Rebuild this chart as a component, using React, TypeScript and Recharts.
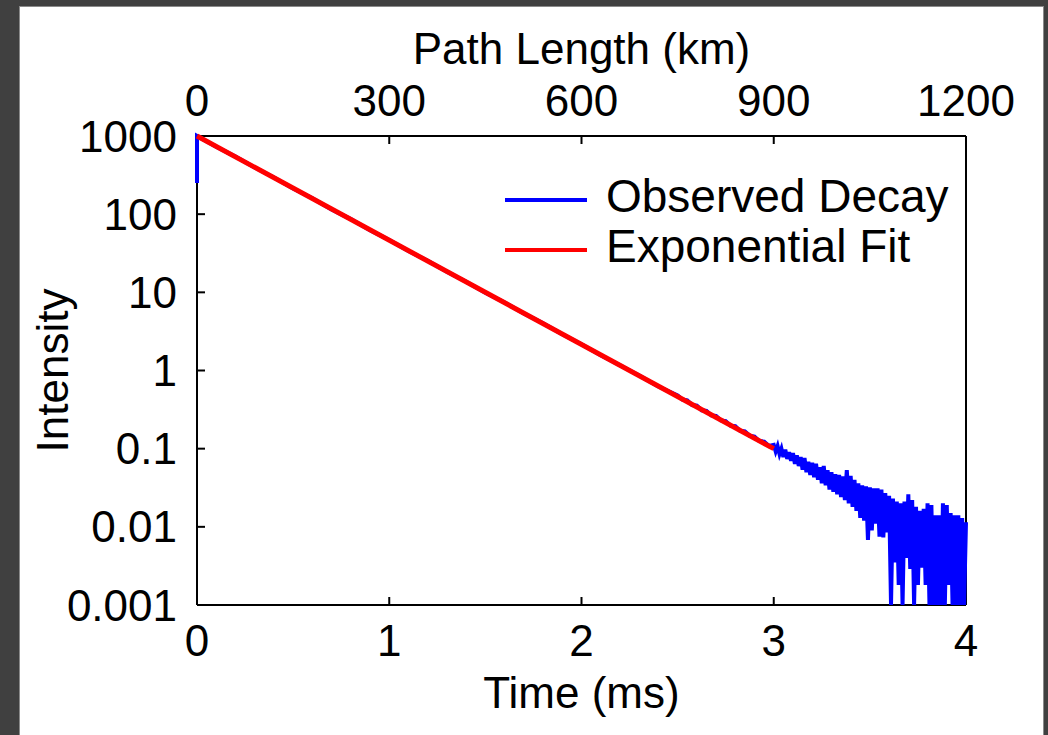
import { LineChart, Line, XAxis, YAxis, Legend } from 'recharts';

const FONT = '"Liberation Sans", Arial, sans-serif';

const timeTicks = [0, 1, 2, 3, 4];
const pathTicks = [0, 300, 600, 900, 1200];
const intensityTicks = [0.001, 0.01, 0.1, 1, 10, 100, 1000];
const legendOrder = ['Observed Decay', 'Exponential Fit'];

// observed decay (ms, intensity)
const decayTimes = [
  0, 0, 0.1, 0.2, 0.3, 0.4, 0.5, 0.6, 0.7, 0.8, 0.9, 1.0, 1.1, 1.2, 1.3, 1.4, 1.5, 1.6, 1.7, 1.8, 1.9,
  2.0, 2.1, 2.2, 2.3, 2.4,
  2.5, 2.525, 2.55, 2.575, 2.6, 2.625, 2.65, 2.675, 2.7, 2.725, 2.75, 2.775, 2.8, 2.825, 2.85, 2.875,
  2.9, 2.925, 2.95, 2.975,
  3.0, 3.01, 3.02, 3.03, 3.04, 3.05, 3.06, 3.07, 3.08, 3.09,
  3.1, 3.11, 3.12, 3.13, 3.14, 3.15, 3.16, 3.17, 3.18, 3.19,
  3.2, 3.21, 3.22, 3.23, 3.24, 3.25, 3.26, 3.27, 3.28, 3.29,
  3.3, 3.31, 3.32, 3.33, 3.34, 3.35, 3.36, 3.37, 3.38, 3.39,
  3.4, 3.41, 3.42, 3.43, 3.44, 3.45, 3.46, 3.47, 3.48, 3.49,
  3.5, 3.51, 3.52, 3.53, 3.54, 3.55, 3.56, 3.57, 3.58, 3.59,
  3.6, 3.61, 3.62, 3.63, 3.64, 3.65, 3.66, 3.67, 3.68, 3.69,
  3.7, 3.71, 3.72, 3.73, 3.74, 3.75, 3.76, 3.77, 3.78, 3.79,
  3.8, 3.81, 3.82, 3.83, 3.84, 3.85, 3.86, 3.87, 3.88, 3.89,
  3.9, 3.91, 3.92, 3.93, 3.94, 3.95, 3.96, 3.97, 3.98, 3.99, 4.0,
];
const decayValues = [
  250, 1000, 730, 545, 396, 295, 213, 160, 115, 86.5, 62.5, 46.8, 33.8, 25.3, 18.3, 13.7, 9.9, 7.42, 5.38, 4.02, 2.9,
  2.17, 1.57, 1.17, 0.865, 0.625,
  0.48, 0.425, 0.415, 0.362, 0.355, 0.31, 0.305, 0.266, 0.262, 0.23, 0.225, 0.197, 0.194, 0.169, 0.166, 0.146,
  0.143, 0.125, 0.123, 0.108,
  0.112, 0.092, 0.108, 0.085, 0.1, 0.078, 0.097, 0.074, 0.09, 0.07,
  0.088, 0.064, 0.082, 0.06, 0.078, 0.054, 0.076, 0.05, 0.068, 0.046,
  0.066, 0.043, 0.064, 0.04, 0.058, 0.036, 0.06, 0.034, 0.053, 0.03,
  0.05, 0.028, 0.047, 0.026, 0.046, 0.024, 0.044, 0.022, 0.053, 0.02,
  0.045, 0.018, 0.04, 0.016, 0.036, 0.013, 0.034, 0.012, 0.033, 0.0068,
  0.032, 0.009, 0.031, 0.011, 0.031, 0.0075, 0.03, 0.0073, 0.027, 0.0085,
  0.025, 0.001, 0.023, 0.0035, 0.021, 0.0018, 0.02, 0.001, 0.021, 0.004,
  0.026, 0.0029, 0.022, 0.001, 0.018, 0.0018, 0.016, 0.003, 0.017, 0.0018,
  0.02, 0.001, 0.019, 0.001, 0.014, 0.001, 0.014, 0.001, 0.02, 0.001,
  0.019, 0.0018, 0.015, 0.001, 0.014, 0.001, 0.014, 0.001, 0.013, 0.001, 0.0115,
];

// exponential fit, plotted against the top (path length) axis
const fitPathKm = [0, 900];
const fitValues = [1000, 0.1];

const observed = decayTimes.map((t, i) => ({ t, v: decayValues[i] }));
const fit = fitPathKm.map((km, i) => ({ km, v: fitValues[i] }));

const axisLine = { stroke: '#000', strokeWidth: 2 };
const tickStyle = { fill: '#000', fontSize: 44, fontFamily: FONT };
const labelStyle = { fill: '#000', fontSize: 44, fontFamily: FONT, textAnchor: 'middle' as const };

function LegendBox({ payload }: { payload?: Array<{ value: string; color: string }> }) {
  const items = [...(payload || [])].sort(
    (a, b) => legendOrder.indexOf(a.value) - legendOrder.indexOf(b.value)
  );
  return (
    <div style={{ fontFamily: FONT, fontSize: 46, lineHeight: '50px', color: '#000' }}>
      {items.map((p) => (
        <div key={p.value} style={{ display: 'flex', alignItems: 'center', height: 50 }}>
          <div style={{ width: 82, height: 4, background: p.color, position: 'relative', top: 4, marginRight: 19 }} />
          <span style={{ whiteSpace: 'nowrap' }}>{p.value}</span>
        </div>
      ))}
    </div>
  );
}

export default function App() {
  return (
    <div style={{ position: 'absolute', left: 0, top: 0, width: 1048, height: 735, background: '#404040' }}>
      <div
        style={{
          position: 'absolute',
          left: 19,
          top: 6,
          width: 1025,
          height: 730,
          boxSizing: 'border-box',
          background: '#fff',
          border: '1px solid #8a8a8a',
        }}
      />
      <div style={{ position: 'absolute', left: 0, top: 0 }}>
        <LineChart width={1048} height={735} margin={{ top: 36, right: 72, bottom: 30, left: 20 }}>
          <XAxis
            xAxisId="bottom"
            dataKey="t"
            type="number"
            domain={[0, 4]}
            ticks={timeTicks}
            orientation="bottom"
            height={100}
            axisLine={axisLine}
            tickLine={axisLine}
            tickSize={-8}
            tickMargin={28}
            tick={tickStyle}
            label={{ value: 'Time (ms)', position: 'insideBottom', offset: -3, style: labelStyle }}
          />
          <XAxis
            xAxisId="top"
            dataKey="km"
            type="number"
            domain={[0, 1200]}
            ticks={pathTicks}
            orientation="top"
            height={100}
            axisLine={axisLine}
            tickLine={axisLine}
            tickSize={-8}
            tickMargin={28}
            tick={tickStyle}
            label={{ value: 'Path Length (km)', position: 'insideTop', offset: -3, style: labelStyle }}
          />
          <YAxis
            yAxisId="left"
            scale="log"
            domain={[0.001, 1000]}
            ticks={intensityTicks}
            width={177}
            axisLine={axisLine}
            tickLine={axisLine}
            tickSize={-8}
            tickMargin={28}
            tick={tickStyle}
            tickFormatter={(v: number) => String(v)}
            label={{ value: 'Intensity', angle: -90, position: 'insideLeft', offset: 32, style: labelStyle }}
          />
          <YAxis
            yAxisId="right"
            orientation="right"
            scale="log"
            domain={[0.001, 1000]}
            ticks={intensityTicks}
            width={10}
            axisLine={axisLine}
            tickLine={axisLine}
            tickSize={-8}
            tickFormatter={() => ''}
          />
          <Legend
            layout="vertical"
            align="center"
            verticalAlign="middle"
            wrapperStyle={{ left: 505, top: 171, width: 470 }}
            content={<LegendBox />}
          />
          <Line
            xAxisId="bottom"
            yAxisId="left"
            data={observed}
            dataKey="v"
            name="Observed Decay"
            type="linear"
            stroke="#0000ff"
            strokeWidth={4}
            dot={false}
            zIndex={600}
            isAnimationActive={false}
          />
          <Line
            xAxisId="top"
            yAxisId="left"
            data={fit}
            dataKey="v"
            name="Exponential Fit"
            type="linear"
            stroke="#ff0000"
            strokeWidth={5}
            dot={false}
            zIndex={610}
            isAnimationActive={false}
          />
        </LineChart>
      </div>
    </div>
  );
}
